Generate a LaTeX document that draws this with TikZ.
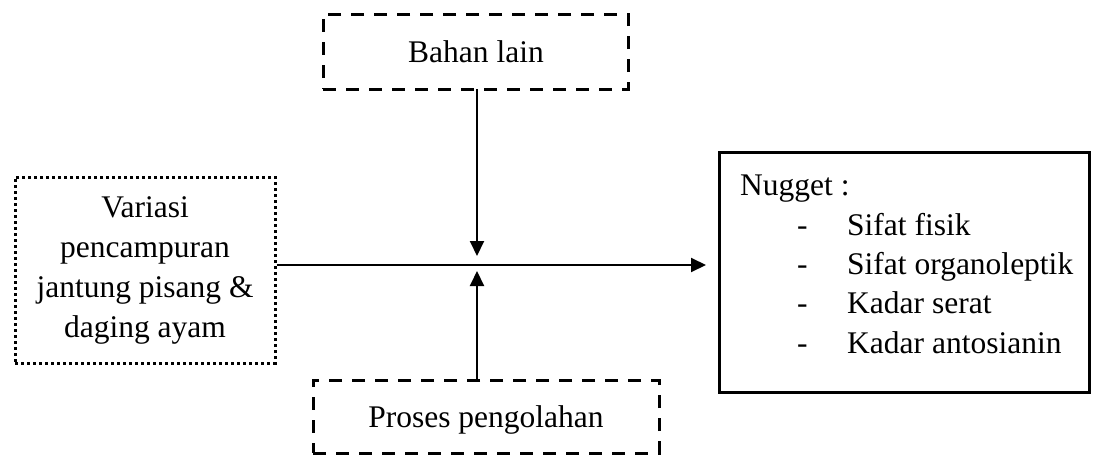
\documentclass[tikz,border=0pt]{standalone}
\usepackage{fontspec}
\setmainfont{Liberation Serif}
\usetikzlibrary{arrows.meta}
\begin{document}
\begin{tikzpicture}[x=1pt,y=-1pt,
  txt/.style={font=\fontsize{31.5}{40}\selectfont, inner sep=0pt},
  dashbox/.style={draw, line width=3pt, dash pattern=on 13pt off 10pt, inner sep=0pt},
  dotbox/.style={draw, line width=3pt, dash pattern=on 3pt off 3pt, inner sep=0pt},
  solidbox/.style={draw, line width=3pt, inner sep=0pt},
  arr/.style={line width=2pt, -{Triangle[length=15pt,width=14pt]}}]
\useasboundingbox (0,0) rectangle (1116,455);
\node[dashbox, minimum width=305pt, minimum height=75pt] (bahan) at (475.5,51.5) {};
\node[txt, anchor=base] (bahantxt) at (476,62) {Bahan lain};
\node[dashbox, minimum width=346pt, minimum height=73pt] (proses) at (486,416.5) {};
\node[txt, anchor=base] (prosestxt) at (486,427) {Proses pengolahan};
\node[dotbox, minimum width=260pt, minimum height=186pt] (var) at (145,270) {};
\node[txt, anchor=base] (v1) at (145,217) {Variasi};
\node[txt, anchor=base] (v2) at (145,257) {pencampuran};
\node[txt, anchor=base] (v3) at (145,297) {jantung pisang \&};
\node[txt, anchor=base] (v4) at (145,337) {daging ayam};
\node[solidbox, minimum width=370pt, minimum height=240pt] (nug) at (904,272) {};
\node[txt, anchor=base west] (n0) at (740,195) {Nugget :};
\node[txt, anchor=base west] (d1) at (797,235) {-};
\node[txt, anchor=base west] (n1) at (847,235) {Sifat fisik};
\node[txt, anchor=base west] (d2) at (797,274) {-};
\node[txt, anchor=base west] (n2) at (847,274) {Sifat organoleptik};
\node[txt, anchor=base west] (d3) at (797,313) {-};
\node[txt, anchor=base west] (n3) at (847,313) {Kadar serat};
\node[txt, anchor=base west] (d4) at (797,353) {-};
\node[txt, anchor=base west] (n4) at (847,353) {Kadar antosianin};
\coordinate (hs) at (276.5,265);
\coordinate (he) at (706,265);
\coordinate (ds) at (477,89);
\coordinate (de) at (477,256);
\coordinate (us) at (477,380);
\coordinate (ue) at (477,271);
\draw[arr] (hs) -- (he);
\draw[arr] (ds) -- (de);
\draw[arr] (us) -- (ue);
\end{tikzpicture}
\end{document}
